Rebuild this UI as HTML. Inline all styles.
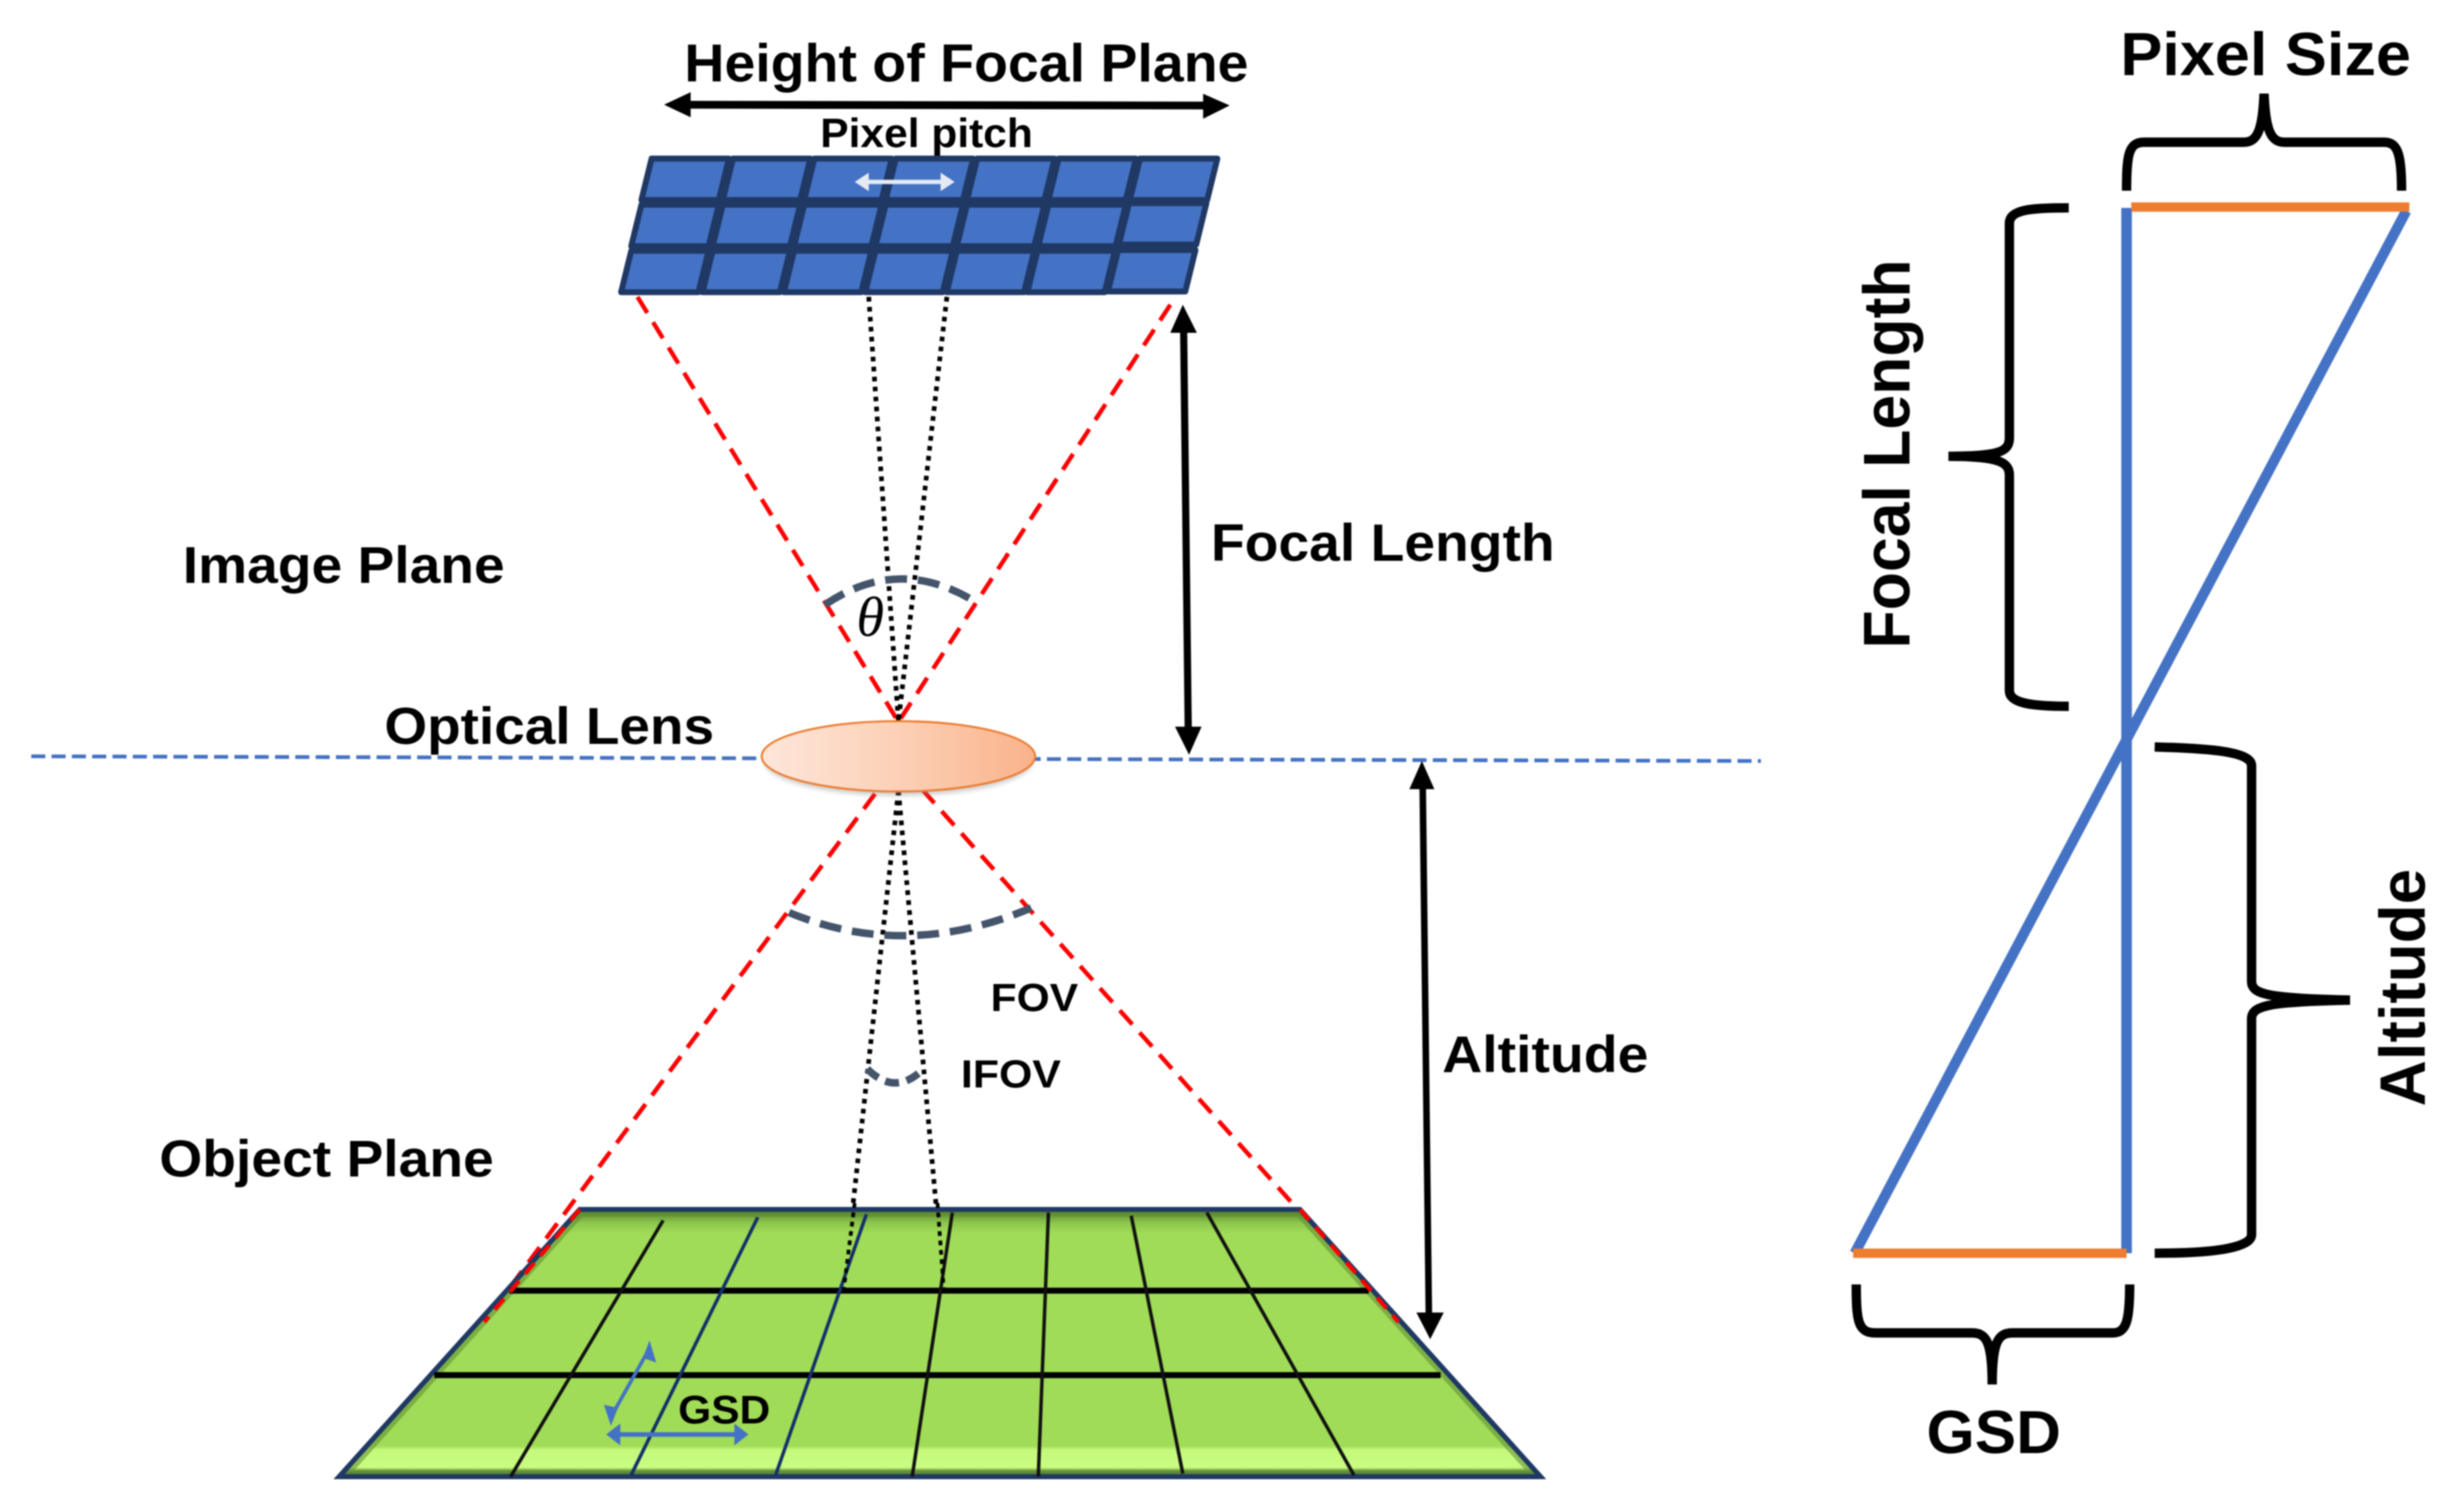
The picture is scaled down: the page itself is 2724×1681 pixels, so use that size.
<!DOCTYPE html>
<html>
<head>
<meta charset="utf-8">
<style>
html,body{margin:0;padding:0;background:#fff;width:2724px;height:1681px;overflow:hidden}
svg{display:block;filter:blur(0.8px)}
text{font-family:"Liberation Sans",sans-serif;font-weight:bold;fill:#000}
</style>
</head>
<body>
<svg xmlns="http://www.w3.org/2000/svg" width="2724" height="1681" viewBox="0 0 1568 967.6">
<defs>
<linearGradient id="lens" x1="0" y1="0" x2="1" y2="0">
<stop offset="0" stop-color="#fde6da"/><stop offset="0.5" stop-color="#fcd0b6"/><stop offset="1" stop-color="#f9b28a"/>
</linearGradient>
<linearGradient id="green" x1="0" y1="0" x2="0" y2="1">
<stop offset="0" stop-color="#4f7a2c"/><stop offset="0.05" stop-color="#8cc64c"/><stop offset="0.09" stop-color="#a0dc57"/>
<stop offset="0.885" stop-color="#a0dc57"/><stop offset="0.9" stop-color="#c5f97c"/><stop offset="0.965" stop-color="#c8fb80"/><stop offset="0.98" stop-color="#6f9c3a"/><stop offset="1" stop-color="#1f3864"/>
</linearGradient>
<filter id="sh" x="-10%" y="-30%" width="120%" height="170%"><feGaussianBlur stdDeviation="1.6"/></filter>
<clipPath id="trap"><polygon points="371,774 832,774 986,945 217,945"/></clipPath>
<polygon id="cell" points="0,0 49.5,0 43,26.5 -6.5,26.5" fill="#4472c4" stroke="#1f3864" stroke-width="3.8" stroke-linejoin="round"/>
</defs>
<rect width="1568" height="967.6" fill="#fff"/>

<!-- horizontal optical axis -->
<line x1="20" y1="484" x2="1127" y2="487" stroke="#4472c4" stroke-width="2.4" stroke-dasharray="9 4"/>

<!-- red rays -->
<g stroke="#ff0000" stroke-width="2.8" stroke-dasharray="12 7" fill="none">
<line x1="408" y1="190" x2="575" y2="462"/>
<line x1="749" y1="195" x2="575" y2="462"/>
<line x1="560" y1="508" x2="310" y2="846"/>
<line x1="590" y1="505" x2="895" y2="846"/>
</g>

<!-- dotted rays -->
<g stroke="#000" stroke-width="3" stroke-dasharray="3 3.4" fill="none">
<line x1="556" y1="190" x2="575" y2="462"/>
<line x1="606" y1="190" x2="575" y2="462"/>
<line x1="575" y1="506" x2="540" y2="825"/>
<line x1="575" y1="506" x2="604" y2="825"/>
</g>

<!-- focal plane -->
<g>
<use href="#cell" x="417" y="101.5"/><use href="#cell" x="469.1" y="101.5"/><use href="#cell" x="521.2" y="101.5"/><use href="#cell" x="573.3" y="101.5"/><use href="#cell" x="625.4" y="101.5"/><use href="#cell" x="677.5" y="101.5"/><use href="#cell" x="729.6" y="101.5"/>
<use href="#cell" x="410.5" y="131"/><use href="#cell" x="462.6" y="131"/><use href="#cell" x="514.7" y="131"/><use href="#cell" x="566.8" y="131"/><use href="#cell" x="618.9" y="131"/><use href="#cell" x="671" y="131"/><use href="#cell" x="722.6" y="130"/>
<use href="#cell" x="404" y="160.5"/><use href="#cell" x="456.1" y="160.5"/><use href="#cell" x="508.2" y="160.5"/><use href="#cell" x="560.3" y="160.5"/><use href="#cell" x="612.4" y="160.5"/><use href="#cell" x="664" y="160.5"/><use href="#cell" x="715.6" y="160"/>
</g>

<!-- pixel pitch arrow -->
<g fill="#e4e9f2" stroke="none">
<rect x="552" y="115" width="54" height="2.8"/>
<polygon points="547,116.4 556,110.5 556,122.3"/>
<polygon points="611,116.4 602,110.5 602,122.3"/>
</g>

<!-- lens -->
<ellipse cx="575" cy="487" rx="86" ry="22" fill="#888" opacity="0.45" filter="url(#sh)"/>
<ellipse cx="575" cy="484" rx="87.5" ry="22.5" fill="url(#lens)" stroke="#ed7d31" stroke-width="1.3"/>

<!-- arcs -->
<g fill="none" stroke="#44546a" stroke-width="4.8" stroke-dasharray="14 7">
<path d="M528,387 Q575,355 624,385"/>
<path d="M505,584 Q580,615 660,581"/>
<path d="M555,684 Q573,702 591,684" stroke-dasharray="9 5"/>
</g>

<!-- object plane -->
<polygon points="371,774 832,774 986,945 217,945" fill="url(#green)"/>
<polygon points="371,774 832,774 986,945 217,945" fill="none" stroke="#5f8a33" stroke-width="9" opacity="0.55" clip-path="url(#trap)"/>
<polygon points="371,774 832,774 986,945 217,945" fill="none" stroke="#1f3864" stroke-width="3.2" stroke-linejoin="miter"/>
<g stroke="#000" stroke-width="3.8">
<line x1="326" y1="826" x2="876" y2="826"/>
<line x1="278" y1="880" x2="922" y2="880"/>
</g>
<g stroke-width="2.2" fill="none">
<line x1="424.4" y1="781" x2="326.8" y2="945" stroke="#111"/>
<line x1="485" y1="779" x2="403.9" y2="944" stroke="#14306b"/>
<line x1="554.5" y1="777" x2="496.4" y2="944" stroke="#14306b"/>
<line x1="609.5" y1="776" x2="583.8" y2="945" stroke="#111"/>
<line x1="671" y1="776" x2="664.5" y2="945" stroke="#111"/>
<line x1="724" y1="778" x2="757" y2="943" stroke="#111"/>
<line x1="772.4" y1="776" x2="866.5" y2="944" stroke="#111"/>
</g>
<!-- rays over the object plane -->
<g stroke="#ff0000" stroke-width="2.6" stroke-dasharray="9 6" fill="none">
<line x1="371" y1="774" x2="310" y2="846"/>
<line x1="832" y1="774" x2="895" y2="846"/>
</g>
<g stroke="#000" stroke-width="2.4" stroke-dasharray="3 3" fill="none">
<line x1="547" y1="770" x2="540" y2="825"/>
<line x1="600" y1="770" x2="604" y2="825"/>
</g>

<!-- GSD arrows on plane -->
<g fill="#4472c4" stroke="none">
<polygon points="415.7,857.8 420,872 411.5,869"/>
<polygon points="391,912.5 386.5,899 395.5,901"/>
</g>
<line x1="414.5" y1="865" x2="392" y2="905" stroke="#4472c4" stroke-width="2.3"/>
<line x1="394" y1="918" x2="474" y2="918" stroke="#4472c4" stroke-width="3"/>
<polygon points="388,918 397,911 397,925" fill="#4472c4"/>
<polygon points="479,918 470,911 470,925" fill="#4472c4"/>

<!-- width arrow -->
<line x1="438" y1="67" x2="775" y2="67.5" stroke="#000" stroke-width="5"/>
<polygon points="425,67 442,59 442,75" fill="#000"/>
<polygon points="787,67.5 770,60 770,76" fill="#000"/>

<!-- focal length arrow -->
<line x1="757.5" y1="208" x2="760.5" y2="470" stroke="#000" stroke-width="4.6"/>
<polygon points="757,195 749,213 766,213" fill="#000"/>
<polygon points="761,483 752,465 769,465" fill="#000"/>

<!-- altitude arrow -->
<line x1="910.5" y1="500" x2="914.5" y2="845" stroke="#000" stroke-width="4.2"/>
<polygon points="910,487 902,505 918,505" fill="#000"/>
<polygon points="915.3,857 906.5,840 924,840" fill="#000"/>

<!-- right diagram -->
<line x1="1361" y1="133" x2="1361" y2="802" stroke="#4472c4" stroke-width="6.8"/>
<line x1="1540" y1="135" x2="1187" y2="802" stroke="#4472c4" stroke-width="6.6"/>
<line x1="1364" y1="132.5" x2="1542" y2="132.5" stroke="#ed7d31" stroke-width="6"/>
<line x1="1186" y1="802" x2="1361" y2="802" stroke="#ed7d31" stroke-width="6"/>

<g fill="none" stroke="#000" stroke-width="6" stroke-linecap="butt">
<path d="M1361,122 C1361,100 1362,91 1372,91 L1436,91 C1444,91 1448,85 1449,60 C1450,85 1454,91 1462,91 L1526,91 C1535,91 1537,100 1537,122"/>
<path d="M1324,133 C1300,133 1286,134 1286,143 L1286,280 C1286,289 1280,292 1247,292 C1280,292 1286,296 1286,304 L1286,442 C1286,450 1300,452 1324,452"/>
<path d="M1379,478 C1415,479 1441,481 1441,490 L1441,628 C1441,636 1450,639 1504,640 C1450,641 1441,644 1441,652 L1441,790 C1441,799 1415,802 1379,802"/>
<path d="M1188,822 C1188,845 1189,853 1200,853 L1262,853 C1271,853 1275,858 1275,886 C1275,858 1279,853 1288,853 L1352,853 C1361,853 1363,845 1363,822"/>
</g>

<!-- labels -->
<text x="438" y="52" font-size="34" textLength="361" lengthAdjust="spacingAndGlyphs">Height of Focal Plane</text>
<text x="525" y="94" font-size="26" textLength="136" lengthAdjust="spacingAndGlyphs">Pixel pitch</text>
<text x="775" y="359" font-size="33.5" textLength="220" lengthAdjust="spacingAndGlyphs">Focal Length</text>
<text x="117" y="373" font-size="33" textLength="206" lengthAdjust="spacingAndGlyphs">Image Plane</text>
<text x="246" y="476" font-size="33" textLength="211" lengthAdjust="spacingAndGlyphs">Optical Lens</text>
<text x="102" y="753" font-size="33" textLength="214" lengthAdjust="spacingAndGlyphs">Object Plane</text>
<text x="923" y="686" font-size="33" textLength="132" lengthAdjust="spacingAndGlyphs">Altitude</text>
<text x="634" y="647" font-size="25" textLength="56" lengthAdjust="spacingAndGlyphs">FOV</text>
<text x="615" y="696" font-size="25" textLength="64" lengthAdjust="spacingAndGlyphs">IFOV</text>
<text x="434" y="911" font-size="25.5" textLength="59" lengthAdjust="spacingAndGlyphs">GSD</text>
<text x="557" y="407" font-size="36" text-anchor="middle" style="font-family:'Liberation Serif',serif;font-style:italic;font-weight:normal">θ</text>

<text x="1357" y="48" font-size="39" textLength="186" lengthAdjust="spacingAndGlyphs">Pixel Size</text>
<text x="1233" y="930" font-size="39" textLength="86" lengthAdjust="spacingAndGlyphs">GSD</text>
<text transform="translate(1222,415) rotate(-90)" font-size="42" textLength="249" lengthAdjust="spacingAndGlyphs">Focal Length</text>
<text transform="translate(1552,708) rotate(-90)" font-size="41" textLength="152" lengthAdjust="spacingAndGlyphs">Altitude</text>
</svg>
</body>
</html>
